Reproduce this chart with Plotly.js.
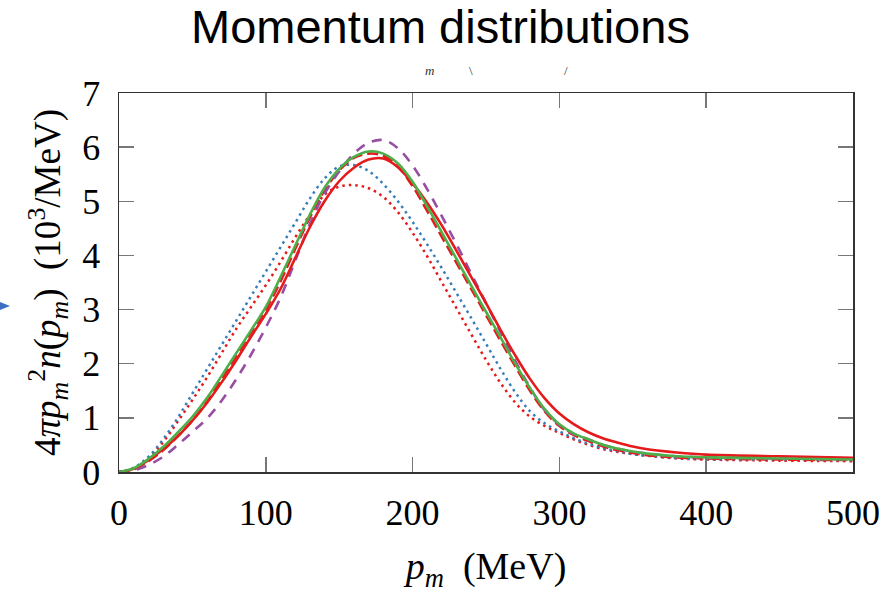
<!DOCTYPE html>
<html>
<head>
<meta charset="utf-8">
<script src="https://cdn.plot.ly/plotly-3.0.1.min.js"></script>
<style>html,body{margin:0;padding:0;background:#fff;}#chart{width:888px;height:595px;}</style>
</head>
<body>
<div id="chart"></div>
<script>
// momentum grid (MeV)
const pm = [0,10,20,30,40,50,60,70,80,90,100,110,120,130,140,150,160,170,180,190,200,210,220,230,240,250,260,270,280,290,300,310,320,330,340,350,360,380,400,450,500];
// 4 pi pm^2 n(pm) in 10^3/MeV
const redSolid   = [0,0.06,0.22,0.42,0.66,0.95,1.28,1.66,2.07,2.5,2.92,3.38,3.95,4.52,5.0,5.37,5.62,5.77,5.79,5.63,5.33,4.97,4.55,4.08,3.6,3.12,2.62,2.15,1.72,1.36,1.08,0.88,0.73,0.62,0.54,0.47,0.42,0.36,0.32,0.29,0.26];
const greenSolid = [0,0.07,0.24,0.46,0.73,1.02,1.37,1.78,2.2,2.62,3.05,3.6,4.18,4.75,5.25,5.6,5.82,5.92,5.88,5.7,5.36,4.9,4.42,3.93,3.44,2.96,2.48,2.0,1.55,1.16,0.88,0.71,0.6,0.5,0.43,0.38,0.34,0.29,0.27,0.25,0.23];
const redDashed  = [0,0.05,0.2,0.4,0.66,0.95,1.3,1.72,2.15,2.58,3.0,3.52,4.12,4.7,5.2,5.57,5.8,5.88,5.84,5.64,5.28,4.82,4.34,3.86,3.38,2.9,2.42,1.95,1.5,1.12,0.85,0.68,0.57,0.47,0.4,0.35,0.31,0.27,0.25,0.23,0.22];
const purpleDashed = [0,0.03,0.13,0.28,0.5,0.74,0.99,1.32,1.72,2.17,2.67,3.22,3.9,4.58,5.14,5.55,5.88,6.08,6.13,5.98,5.66,5.22,4.72,4.2,3.66,3.12,2.58,2.05,1.56,1.14,0.87,0.7,0.6,0.5,0.43,0.38,0.34,0.29,0.27,0.25,0.23];
const blueDotted = [0,0.08,0.28,0.6,1.0,1.45,1.9,2.35,2.8,3.25,3.7,4.15,4.6,5.05,5.42,5.64,5.67,5.56,5.32,5.0,4.62,4.2,3.76,3.3,2.84,2.37,1.9,1.47,1.12,0.9,0.75,0.62,0.52,0.44,0.38,0.33,0.3,0.26,0.24,0.23,0.22];
const redDotted  = [0,0.07,0.25,0.55,0.93,1.33,1.75,2.2,2.65,3.05,3.45,3.88,4.33,4.75,5.12,5.27,5.3,5.24,5.08,4.8,4.42,3.98,3.5,3.02,2.54,2.07,1.64,1.28,1.02,0.85,0.72,0.6,0.5,0.42,0.37,0.33,0.3,0.25,0.23,0.21,0.2];

const xTicks = [0,100,200,300,400,500];
const yTicks = [0,1,2,3,4,5,6,7];

const RED = '#e41a1c', GREEN = '#4daf4a', BLUE = '#377eb8', PURPLE = '#984ea3';

function tr(y, color, dash, width) {
  return {x: pm, y: y, type: 'scatter', mode: 'lines',
    line: {color: color, dash: dash, width: width, shape: 'spline', smoothing: 1},
    hoverinfo: 'skip', showlegend: false};
}

const data = [
  tr(redDotted, RED, '2.5px,4px', 2.5),
  tr(blueDotted, BLUE, '2.5px,4px', 2.5),
  tr(redDashed, RED, '11px,5px', 2.6),
  tr(purpleDashed, PURPLE, '10px,8px', 2.6),
  tr(redSolid, RED, 'solid', 2.6),
  tr(greenSolid, GREEN, 'solid', 2.6)
];

const serif = 'Liberation Serif, Times New Roman, serif';
const axisCommon = {
  showline: true, linecolor: '#333', linewidth: 1.5, mirror: 'allticks',
  ticks: 'inside', ticklen: 15, tickwidth: 1.5, tickcolor: '#777',
  showgrid: false, zeroline: false,
  tickfont: {family: serif, size: 36, color: '#000'}
};

const layout = {
  width: 888, height: 595,
  margin: {l: 119, r: 35, t: 93, b: 123},
  paper_bgcolor: '#fff', plot_bgcolor: '#fff',
  title: {text: 'Momentum distributions', font: {family: 'Liberation Sans, Arial, sans-serif', size: 47, color: '#000'},
    xref: 'container', x: 0.496, xanchor: 'center', yref: 'container', y: 0.955, yanchor: 'middle'},
  xaxis: Object.assign({}, axisCommon, {range: [0, 500], tickvals: xTicks, ticktext: xTicks.map(String),
    ticklabelstandoff: 8,
    title: {text: '<i>p</i><sub><i>m</i></sub>  (MeV)', font: {family: serif, size: 38, color: '#000'}, standoff: 20}}),
  yaxis: Object.assign({}, axisCommon, {range: [0, 7], tickvals: yTicks, ticktext: yTicks.map(String),
    ticklabelstandoff: 10,
    title: {text: '4<i>πp</i><sub><i>m</i></sub><sup>2</sup><i>n</i>(<i>p</i><sub><i>m</i></sub>)  (10<sup>3</sup>/MeV)', font: {family: serif, size: 37, color: '#000'}, standoff: 10}}),
  shapes: [
    {type: 'path', xref: 'paper', yref: 'paper', path: 'M -0.1621 0.4485 L -0.1485 0.438 L -0.1621 0.4274 Z',
     fillcolor: '#3a6fc2', line: {width: 0}}
  ],
  annotations: [
    {xref: 'paper', yref: 'paper', x: (429-119)/734, y: (472-61)/379, text: '<i>m</i>', showarrow: false,
     font: {family: serif, size: 13, color: '#333'}},
    {xref: 'paper', yref: 'paper', x: (471-119)/734, y: (472-61)/379, text: '\\', showarrow: false,
     font: {family: serif, size: 13, color: '#333'}},
    {xref: 'paper', yref: 'paper', x: (566-119)/734, y: (472-61)/379, text: '/', showarrow: false,
     font: {family: serif, size: 13, color: '#333'}}
  ],
  showlegend: false
};

Plotly.newPlot('chart', data, layout, {displayModeBar: false, staticPlot: true});
</script>
</body>
</html>
